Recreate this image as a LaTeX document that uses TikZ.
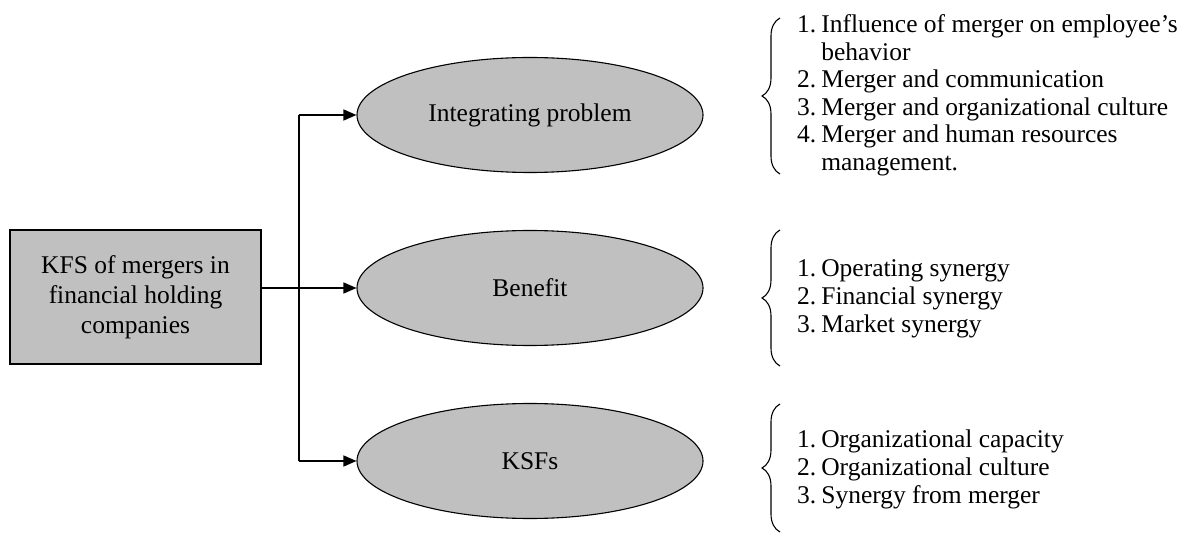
\documentclass[tikz,border=0pt]{standalone}
\usepackage{fontspec}
\setmainfont{Liberation Serif}
\usepackage{tikz}
\usetikzlibrary{
    arrows.meta,
    shapes.geometric,
    decorations.pathreplacing,
    positioning
}
\definecolor{kfsgray}{HTML}{C0C0C0}
\tikzset{kfsbox/.style={rectangle, draw=black, fill=kfsgray, line width=1.2pt, minimum width=251pt, minimum height=134pt, inner sep=0pt, align=center, font=\fontsize{25.5}{30}\selectfont}}
\tikzset{kfsell/.style={ellipse, draw=black, fill=kfsgray, line width=1.1pt, minimum width=346pt, minimum height=115pt, inner sep=0pt, font=\fontsize{25.5}{30}\selectfont}}
\tikzset{kfslist/.style={anchor=west, inner sep=0pt, font=\fontsize{25.5}{27.6}\selectfont}}
\tikzset{kfsarr/.style={-{Triangle[length=13pt,width=11pt]}, line width=1.5pt}}
\tikzset{kfsbrace/.style={decorate, decoration={brace, mirror, amplitude=18pt}, line width=1.1pt}}
\newcommand{\kfsitems}[1]{\begin{tabular}{@{}l@{\hspace{5pt}}l@{}}#1\end{tabular}}

\begin{document}
\begin{tikzpicture}[x=1pt, y=-1pt]
    \useasboundingbox (0,0) rectangle (1185,534);
    \node[kfsbox] (kfs) at (135.5,297) {KFS of mergers in\\financial holding\\companies};
    \node[kfsell] (integ) at (530,115) {Integrating problem};
    \node[kfsell] (benef) at (530,288) {Benefit};
    \node[kfsell] (ksf) at (530,461) {KSFs};
    \coordinate (trunk) at (299,288);
    \draw[line width=1.5pt] (kfs.east |- benef.west) -- (trunk);
    \draw[line width=1.5pt] (trunk |- integ.west) -- (trunk |- ksf.west);
    \foreach \e in {integ, benef, ksf} {
        \draw[kfsarr] (trunk |- \e.west) -- (\e.west);
    }
    \draw[kfsbrace] (780,18) -- (780,174);
    \draw[kfsbrace] (780,230) -- (780,366);
    \draw[kfsbrace] (780,404) -- (780,532);
    \node[kfslist] (integlist) at (797,96) {\kfsitems{
        1. & Influence of merger on employee’s\\
           & behavior\\
        2. & Merger and communication\\
        3. & Merger and organizational culture\\
        4. & Merger and human resources\\
           & management.}};
    \node[kfslist] (beneflist) at (797,299) {\kfsitems{
        1. & Operating synergy\\
        2. & Financial synergy\\
        3. & Market synergy}};
    \node[kfslist] (ksflist) at (797,470) {\kfsitems{
        1. & Organizational capacity\\
        2. & Organizational culture\\
        3. & Synergy from merger}};
\end{tikzpicture}
\end{document}
